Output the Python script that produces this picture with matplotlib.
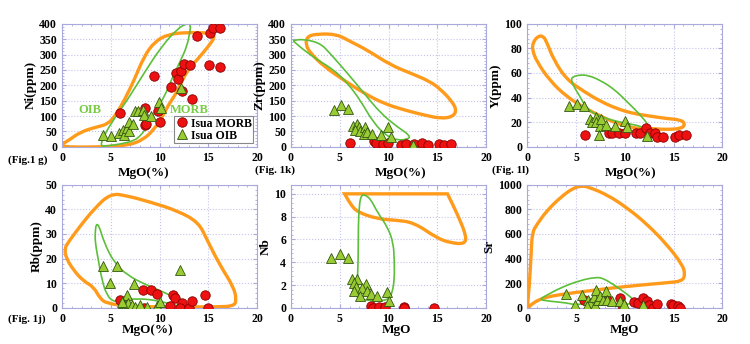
import matplotlib
matplotlib.use("Agg")
import matplotlib.pyplot as plt
from matplotlib.path import Path
from matplotlib.patches import PathPatch
import numpy as np

plt.rcParams['font.family'] = ['Liberation Serif', 'DejaVu Serif']
plt.rcParams['font.weight'] = 'bold'

# Isua basalts vs. MORB / OIB fields, MgO variation diagrams

# --- Ni vs MgO ---
ni_morb_mgo = [5.9, 9.4, 8.5, 8.5, 8.6, 9.8, 10.0, 11.2, 11.7, 11.9, 12.2, 12.3, 12.5, 13.1,
               13.3, 13.8, 15.2, 15.5, 16.2, 15.1, 16.2]
ni_morb = [110, 230, 125, 70, 75, 115, 80, 195, 240, 220, 245, 180, 270, 265,
           155, 360, 370, 385, 385, 265, 260]
ni_oib_mgo = [4.2, 5.0, 5.8, 6.3, 6.4, 6.7, 6.9, 6.9, 7.3, 7.5, 7.8, 8.3, 8.4, 9.1, 9.9, 10.1, 12.2]
ni_oib = [40, 35, 45, 55, 40, 60, 80, 51, 75, 115, 115, 120, 103, 100, 145, 125, 190]
ni_morb_field_x = [-0.1, 0.5, 1.9, 3.6, 4.7, 5.5, 6.4, 7.4, 8.4, 9.5, 10.9, 12.9, 15.3, 15.7, 15.0,
                   14.0, 12.9, 12.2, 11.6, 10.9, 10.2, 9.5, 8.4, 6.7, 4.0, 1.2, 0.0]
ni_morb_field_y = [9, 17, 49, 65, 74, 103, 152, 217, 293, 342, 366, 372, 370, 357, 326,
                   288, 250, 207, 168, 136, 92, 60, 24, 4, 0, -1, 2]
ni_oib_field_x = [4.0, 4.1, 5.0, 6.7, 8.4, 10.2, 11.9, 12.9, 13.2, 13.1, 12.8, 12.2, 11.2, 10.5,
                  9.8, 9.3, 8.6, 8.1, 7.4, 6.0, 4.3]
ni_oib_field_y = [3, 22, 76, 152, 239, 326, 386, 402, 397, 370, 326, 283, 217, 163,
                  130, 103, 60, 38, 20, 9, 2]

# --- Zr vs MgO ---
zr_morb_mgo = [6.0, 8.5, 8.7, 9.4, 9.9, 11.3, 11.8, 12.6, 13.4, 14.0, 15.2, 15.7, 16.4]
zr_morb = [13, 20, 13, 9, 13, 5, 9, 9, 13, 7, 11, 7, 11]
zr_oib_mgo = [4.4, 5.1, 5.8, 6.4, 6.8, 7.0, 6.6, 7.1, 7.6, 7.5, 7.8, 8.3, 9.2, 9.9, 10.3, 12.5]
zr_oib = [120, 136, 122, 67, 74, 63, 54, 52, 65, 43, 49, 41, 38, 63, 33, 5]
zr_morb_field_x = [1.65, 2.7, 4.7, 6.1, 7.8, 10.2, 12.3, 14.3, 15.4, 16.4, 17.0, 16.6, 15.4, 13.7,
                   11.6, 9.5, 7.5, 5.4, 3.4, 2.0, 1.5]
zr_morb_field_y = [359, 367, 366, 342, 315, 266, 239, 212, 185, 152, 120, 98, 92, 103,
                   120, 141, 174, 217, 261, 304, 332]
zr_oib_field_x = [0.2, 1.3, 3.0, 4.0, 5.8, 7.5, 9.2, 10.9, 12.3, 11.9, 10.9, 9.9, 8.5, 7.1,
                  5.8, 4.4, 2.7, 1.3, 0.3]
zr_oib_field_y = [346, 350, 337, 304, 239, 174, 109, 65, 35, 24, 22, 33, 76, 152,
                  207, 250, 283, 315, 342]

# --- Y vs MgO ---
y_morb_mgo = [5.9, 8.4, 8.7, 9.4, 10.0, 11.2, 11.6, 12.2, 12.6, 13.1, 13.3, 13.9, 15.2, 15.6, 16.3]
y_morb = [10, 11, 11, 11, 11, 11, 11, 15, 11, 11, 8, 8, 8, 10, 10]
y_oib_mgo = [4.3, 5.1, 5.8, 6.4, 6.6, 7.0, 7.1, 7.5, 7.6, 7.4, 8.1, 9.0, 10.0, 10.2, 12.3]
y_oib = [33, 35, 33, 23, 20, 24, 20, 17, 23, 10, 18, 17, 21, 16, 9]
y_morb_field_x = [0.6, 1.1, 1.65, 2.0, 2.7, 4.0, 5.8, 7.5, 9.2, 10.9, 12.6, 14.3, 15.7, 16.2,
                  15.9, 14.3, 12.6, 10.9, 9.2, 7.5, 5.8, 4.0, 2.3, 1.0, 0.5]
y_morb_field_y = [85, 90, 90, 85, 71, 55, 45, 37, 31, 27, 25, 23, 22, 19,
                  15, 14, 15, 15, 19, 25, 32, 41, 54, 69, 79]
y_oib_field_x = [4.5, 4.7, 5.4, 6.3, 7.5, 8.9, 10.2, 11.6, 12.5, 12.3, 11.6, 10.2, 8.5, 7.1,
                 6.1, 5.4, 4.7]
y_oib_field_y = [55, 57, 58.5, 58, 54, 47, 37, 26, 17, 14, 17, 19, 22, 26, 31, 41, 50]

# --- Rb vs MgO ---
rb_morb_mgo = [5.9, 8.3, 9.1, 9.7, 11.4, 11.6, 11.1, 12.3, 12.1, 13.0, 13.3, 14.7, 15.0, 8.4]
rb_morb = [3.1, 7.4, 7.4, 5.5, 5.1, 4.2, 0.7, 1.8, 0.0, 0.0, 2.8, 5.1, 0.0, 0.0]
rb_oib_mgo = [4.2, 5.6, 4.96, 7.35, 6.7, 6.3, 6.6, 6.8, 7.2, 7.5, 8.0, 8.7, 9.7, 10.0, 12.1, 6.15]
rb_oib = [17, 17, 10.2, 9.6, 5.4, 1.8, 1.1, 1.8, 1.1, 0.4, 1.1, 0.4, 0.7, 2.4, 15.5, 2.4]
rb_morb_field_x = [0.24, 0.7, 1.9, 3.25, 4.96, 6.7, 9.1, 11.8, 14.0, 14.9, 16.2, 17.6, 17.9, 17.6,
                   15.9, 12.8, 9.1, 6.7, 4.6, 3.9, 3.25, 2.2, 1.2, 0.45]
rb_morb_field_y = [24, 27, 33.4, 40, 46.5, 45.5, 42.9, 39.5, 34.8, 27.4, 17.3, 8.5, 3.1, 0.7,
                   0.4, 0.4, 0.4, 0.8, 1.8, 3.8, 8.5, 10.9, 15.2, 20]
rb_oib_field_x = [3.4, 3.5, 3.8, 4.3, 5.3, 6.7, 8.7, 10.8, 12.0, 12.3, 11.5, 9.7, 7.7, 6.3,
                  5.3, 4.6, 4.1, 3.7, 3.4]
rb_oib_field_y = [30.7, 34.1, 33.4, 26.7, 18.6, 13.2, 9.2, 5.8, 3.1, 0.7, 1.1, 3.1, 3.8, 3.1,
                  2.4, 5.1, 11.2, 19.9, 26.7]

# --- Nb vs MgO ---
nb_morb_mgo = [8.2, 8.4, 9.0, 9.6, 11.6, 11.6, 14.7]
nb_morb = [0.2, 0.0, 0.05, 0.1, 0.1, 0.0, 0.0]
nb_oib_mgo = [4.15, 5.0, 5.8, 6.3, 6.8, 6.45, 7.65, 6.7, 7.3, 6.45, 7.8, 8.2, 7.1, 8.8, 9.8, 10.05]
nb_oib = [4.4, 4.7, 4.4, 2.5, 2.5, 2.2, 2.1, 1.8, 1.7, 1.5, 1.5, 1.2, 1.0, 1.0, 1.4, 0.6]
nb_morb_field_x = [5.5, 5.5, 16.05, 16.05, 17.1, 18.0, 17.8, 16.4, 15.0, 12.6, 10.6, 8.9, 6.8, 6.1]
nb_morb_field_y = [10, 10, 10, 10, 8.16, 6.27, 5.6, 5.7, 6.1, 7.5, 7.7, 7.8, 8.4, 9.1]
nb_oib_field_x = [7.2, 7.65, 8.2, 8.85, 9.9, 10.5, 10.6, 10.6, 10.4, 10.05, 8.85, 7.1, 6.7, 6.8,
                  6.9, 6.9, 7.0]
nb_oib_field_y = [9.9, 9.9, 9.5, 8.4, 7.1, 5.7, 4.1, 2.5, 1.4, 0.73, 0.6, 0.73, 1.0, 2.2,
                  4.4, 7.1, 9.0]

# --- Sr vs MgO ---
sr_morb_mgo = [5.8, 8.2, 9.5, 9.7, 10.9, 11.4, 11.9, 12.3, 12.5, 12.9, 13.3, 14.7, 14.95, 15.5, 15.7]
sr_morb = [68, 68, 82, 27, 46, 41, 82, 54, 27, 0, 33, 33, 27, 19, 0]
sr_oib_mgo = [4.0, 4.9, 5.6, 6.2, 6.4, 6.8, 6.9, 7.1, 7.3, 7.5, 7.8, 8.1, 8.2, 8.7, 9.5, 9.9,
              11.9, 6.1]
sr_oib = [114, 27, 103, 68, 41, 87, 27, 149, 68, 95, 60, 141, 68, 54, 54, 33, 27, 14]
sr_morb_field_x = [0.0, 0.2, 0.4, 0.5, 1.0, 2.0, 3.4, 4.7, 5.6, 6.4, 8.2, 10.2, 12.3, 14.3, 15.9,
                   16.2, 15.9, 14.3, 11.6, 8.85, 6.1, 3.4, 1.65, 0.6, 0.1]
sr_morb_field_y = [5, 163, 435, 611, 679, 788, 897, 973, 992, 978, 918, 815, 679, 516, 353,
                   272, 217, 204, 185, 163, 136, 109, 82, 41, 0]
sr_oib_field_x = [1.2, 2.0, 3.4, 5.4, 7.1, 7.8, 8.85, 10.2, 11.0, 10.6, 9.2, 7.5, 6.1, 5.1,
                  4.0, 2.3]
sr_oib_field_y = [68, 103, 163, 223, 250, 239, 190, 114, 60, 27, 35, 49, 46, 22, 41, 54]

ORANGE = '#ff9a1a'
GREEN = '#5cbf3a'
FRAME = '#a9a9dc'
GRIDC = '#c4c4ea'


def smooth_field(x, y, **kw):
    """Closed field outline; vertices act as quadratic Bezier control points"""
    pts = np.column_stack([x, y]).astype(float)
    n = len(pts)
    mids = (pts + np.roll(pts, -1, axis=0)) / 2
    verts = [mids[-1]]
    codes = [Path.MOVETO]
    for i in range(n):
        verts += [pts[i], mids[i]]
        codes += [Path.CURVE3, Path.CURVE3]
    return PathPatch(Path(verts, codes), fill=False, **kw)


def draw_panel(ax, morb_x, morb_y, oib_x, oib_y, mf_x, mf_y, of_x, of_y,
               ymax, ystep, ylabel, xlabel):
    """Draws one MgO variation diagram with the MORB and OIB fields"""
    ax.add_patch(smooth_field(mf_x, mf_y, edgecolor=ORANGE, lw=2.4, zorder=2))
    ax.add_patch(smooth_field(of_x, of_y, edgecolor=GREEN, lw=1.2, zorder=2))
    ax.plot(morb_x, morb_y, 'o', ms=6.8, mfc='#ee1111', mec='#880000', mew=0.6,
            ls='none', zorder=3, label='Isua MORB')
    ax.plot(oib_x, oib_y, '^', ms=7.2, mfc='#99cc33', mec='#335511', mew=0.6,
            ls='none', zorder=4, label='Isua OIB')

    ax.set_xlim(0, 20)
    ax.set_ylim(0, ymax)
    ax.set_xticks(np.arange(0, 21, 5))
    ax.set_yticks(np.arange(0, ymax + 1, ystep))
    ax.set_xticks(np.arange(0, 21, 1), minor=True)
    ax.set_yticks(np.arange(0, ymax + 1, ystep / 5), minor=True)
    ax.grid(True, which='major', color=GRIDC, ls=':', lw=0.8)
    ax.tick_params(which='both', direction='in', colors=FRAME, labelcolor='black',
                   top=True, right=True, labelsize=8.5)
    ax.tick_params(which='major', length=3)
    ax.tick_params(which='minor', length=1.5)
    for s in ax.spines.values():
        s.set_color(FRAME)
        s.set_linewidth(0.8)
    for lab in ax.get_xticklabels() + ax.get_yticklabels():
        lab.set_fontweight('bold')
    ax.set_ylabel(ylabel, fontsize=9.5, fontweight='bold', labelpad=2)
    ax.set_xlabel(xlabel, fontsize=9.5, fontweight='bold', labelpad=2)


fig = plt.figure(figsize=(7.5, 3.44), dpi=100)

cols = [0.0827, 0.388, 0.703]
w = 0.26
rows = [0.573, 0.105]
h = 0.358

ax1 = fig.add_axes([cols[0], rows[0], w, h])
draw_panel(ax1, ni_morb_mgo, ni_morb, ni_oib_mgo, ni_oib, ni_morb_field_x, ni_morb_field_y,
           ni_oib_field_x, ni_oib_field_y, 400, 50, 'Ni(ppm)', 'MgO(%)')
ax1.text(2.9, 120, 'OIB', color='#77cc44', fontsize=9, fontweight='bold', ha='center', va='center')
ax1.text(13.0, 120, 'MORB', color='#77cc44', fontsize=9, fontweight='bold', ha='center', va='center')
leg = ax1.legend(loc='lower right', fontsize=8.5, handletextpad=0.1, borderpad=0.15,
                 labelspacing=0.0, handlelength=1.2, fancybox=False, framealpha=1,
                 edgecolor='#888888', borderaxespad=0.3)
leg.get_frame().set_linewidth(0.8)
ax1.xaxis.set_label_coords(0.42, -0.16)

ax2 = fig.add_axes([cols[1], rows[0], w, h])
draw_panel(ax2, zr_morb_mgo, zr_morb, zr_oib_mgo, zr_oib, zr_morb_field_x, zr_morb_field_y,
           zr_oib_field_x, zr_oib_field_y, 400, 50, 'Zr(ppm)', 'MgO(%)')
ax2.xaxis.set_label_coords(0.56, -0.16)

ax3 = fig.add_axes([cols[2], rows[0], w, h])
draw_panel(ax3, y_morb_mgo, y_morb, y_oib_mgo, y_oib, y_morb_field_x, y_morb_field_y,
           y_oib_field_x, y_oib_field_y, 100, 20, 'Y(ppm)', 'MgO(%)')
ax3.xaxis.set_label_coords(0.53, -0.16)

ax4 = fig.add_axes([cols[0], rows[1], w, h])
draw_panel(ax4, rb_morb_mgo, rb_morb, rb_oib_mgo, rb_oib, rb_morb_field_x, rb_morb_field_y,
           rb_oib_field_x, rb_oib_field_y, 50, 10, 'Rb(ppm)', 'MgO(%)')
ax4.xaxis.set_label_coords(0.44, -0.13)

ax5 = fig.add_axes([cols[1], rows[1], w, h])
draw_panel(ax5, nb_morb_mgo, nb_morb, nb_oib_mgo, nb_oib, nb_morb_field_x, nb_morb_field_y,
           nb_oib_field_x, nb_oib_field_y, 10, 2, 'Nb', 'MgO')
ax5.xaxis.set_label_coords(0.54, -0.13)

ax6 = fig.add_axes([cols[2], rows[1], w, h])
draw_panel(ax6, sr_morb_mgo, sr_morb, sr_oib_mgo, sr_oib, sr_morb_field_x, sr_morb_field_y,
           sr_oib_field_x, sr_oib_field_y, 1000, 200, 'Sr', 'MgO')
ax6.xaxis.set_label_coords(0.5, -0.13)

# figure references under each panel
fig.text(8 / 750, 1 - 160 / 344, '(Fig.1 g)', fontsize=8, fontweight='bold', va='center')
fig.text(255 / 750, 1 - 170 / 344, '(Fig. 1k)', fontsize=8, fontweight='bold', va='center')
fig.text(492 / 750, 1 - 170 / 344, '(Fig. 1l)', fontsize=8, fontweight='bold', va='center')
fig.text(8 / 750, 1 - 319 / 344, '(Fig. 1j)', fontsize=8, fontweight='bold', va='center')

fig.savefig('out.png', dpi=100)
